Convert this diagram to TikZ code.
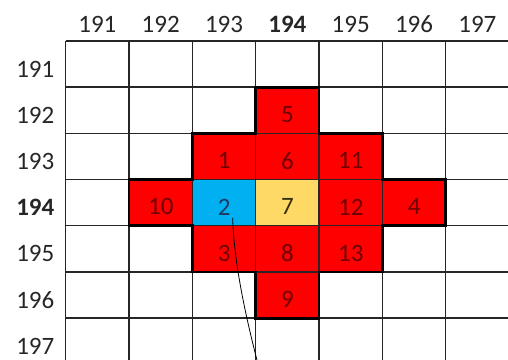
\documentclass[tikz,border=0pt]{standalone}
\usepackage{fontspec}
\setmainfont{Carlito}
\definecolor{cellred}{HTML}{FF0000}
\definecolor{cellblue}{HTML}{00B0F0}
\definecolor{cellyellow}{HTML}{FFD966}
\definecolor{txtred}{HTML}{6E0000}
\definecolor{txtblue}{HTML}{1F3864}
\definecolor{txtbrown}{HTML}{3A2E10}
\definecolor{axisgray}{HTML}{262626}
\begin{document}
\begin{tikzpicture}[x=63.333pt,y=-46.2pt,
  axlbl/.style={font=\fontsize{25}{30}\selectfont, text=axisgray, inner sep=0pt},
  cellbox/.style={minimum width=63.333pt, minimum height=46.2pt, inner sep=0pt, anchor=north west},
  redcell/.style={cellbox, fill=cellred},
  bluecell/.style={cellbox, fill=cellblue},
  yellowcell/.style={cellbox, fill=cellyellow},
  num/.style={font=\fontsize{25}{30}\selectfont, inner sep=0pt, text=txtred},
  gridline/.style={line width=1.4pt, draw=black!85},
  outline/.style={line width=2.8pt, draw=black, line join=miter},
  curveline/.style={line width=0.8pt, draw=black}]
\clip (-1.0373,-0.8874) rectangle (6.9837,6.9048);
% coloured cells
\foreach \c/\r/\n/\s in {3/1/5/redcell, 2/2/1/redcell, 3/2/6/redcell, 4/2/11/redcell,
  1/3/10/redcell, 2/3/2/bluecell, 3/3/7/yellowcell, 4/3/12/redcell, 5/3/4/redcell,
  2/4/3/redcell, 3/4/8/redcell, 4/4/13/redcell, 3/5/9/redcell}
  \node[\s] (cell\n) at (\c,\r) {};
% grid
\foreach \i in {0,...,7} {
  \draw[gridline] (\i,0) -- (\i,7.2);
  \draw[gridline] (0,\i) -- (7.2,\i);
}
% thick outline of the coloured block
\draw[outline] (3,1) -- (4,1) -- (4,2) -- (5,2) -- (5,3) -- (6,3) -- (6,4) -- (5,4)
  -- (5,5) -- (4,5) -- (4,6) -- (3,6) -- (3,5) -- (2,5) -- (2,4) -- (1,4) -- (1,3)
  -- (2,3) -- (2,2) -- (3,2) -- cycle;
% numbers in cells
\foreach \n in {5,1,6,11,10,12,4,3,8,13,9}
  \node[num, yshift=-4pt] (num\n) at (cell\n.center) {\n};
\node[num, text=txtblue, yshift=-4pt] (num2) at (cell2.center) {2};
\node[num, text=txtbrown, yshift=-4pt] (num7) at (cell7.center) {7};
% column labels
\foreach \i/\t in {0/191,1/192,2/193,4/195,5/196,6/197}
  \node[axlbl] (col\t) at (\i+0.5,-0.357) {\t};
\node[axlbl, font=\fontsize{25}{30}\selectfont\bfseries] (col194) at (3.5,-0.357) {194};
% row labels
\foreach \i/\t in {0/191,1/192,2/193,4/195,5/196,6/197}
  \node[axlbl, yshift=-5pt] (row\t) at (-0.48,\i+0.5) {\t};
\node[axlbl, yshift=-5pt, font=\fontsize{25}{30}\selectfont\bfseries] (row194) at (-0.48,3.5) {194};
% curve
\coordinate (cstart) at (2.636,3.831);
\coordinate (cend) at (3.0284,6.95);
\draw[curveline] (cstart) .. controls (2.657,4.74) and (2.815,5.82) .. (cend);
\end{tikzpicture}
\end{document}
